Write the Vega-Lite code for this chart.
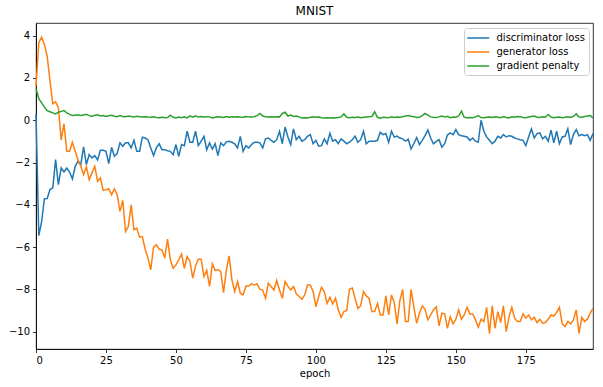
{
"$schema": "https://vega.github.io/schema/vega-lite/v6.json",
"width": 557, "height": 326,
"autosize": {"type": "none"},
"padding": {"left": 36, "top": 23, "right": 10, "bottom": 38},
"title": {"text": "MNIST", "fontSize": 12, "fontWeight": "normal", "font": "DejaVu Sans", "color": "#000", "offset": 5, "anchor": "middle"},
"config": {
  "font": "DejaVu Sans",
  "view": {"stroke": "#000", "strokeWidth": 0.8},
  "axis": {"grid": false, "domainColor": "#000", "domainWidth": 0.8, "tickColor": "#000", "tickWidth": 0.8, "tickSize": 3.5, "labelColor": "#000", "labelFontSize": 10, "labelFont": "DejaVu Sans", "titleFont": "DejaVu Sans", "titleFontSize": 10, "titleFontWeight": "normal", "titleColor": "#000"}
},
"data": {"values": [
{"e":0,"disc":0.3,"gen":1.6,"gp":1.5},
{"e":1,"disc":-5.46,"gen":3.67,"gp":1.02},
{"e":2,"disc":-4.8,"gen":3.93,"gp":0.82},
{"e":3,"disc":-3.71,"gen":3.59,"gp":0.62},
{"e":4,"disc":-3.7,"gen":3.03,"gp":0.45},
{"e":5,"disc":-3.28,"gen":1.85,"gp":0.4},
{"e":6,"disc":-3.2,"gen":0.78,"gp":0.35},
{"e":7,"disc":-1.86,"gen":0.87,"gp":0.3},
{"e":8,"disc":-3.05,"gen":0.58,"gp":0.38},
{"e":9,"disc":-2.26,"gen":-0.93,"gp":0.42},
{"e":10,"disc":-2.45,"gen":-0.17,"gp":0.46},
{"e":11,"disc":-2.26,"gen":-1.47,"gp":0.35},
{"e":12,"disc":-2.45,"gen":-1.47,"gp":0.28},
{"e":13,"disc":-2.78,"gen":-1.04,"gp":0.22},
{"e":14,"disc":-2.18,"gen":-1.47,"gp":0.24},
{"e":15,"disc":-1.94,"gen":-1.86,"gp":0.26},
{"e":16,"disc":-2.1,"gen":-2.18,"gp":0.22},
{"e":17,"disc":-1.26,"gen":-2.57,"gp":0.25},
{"e":18,"disc":-2.1,"gen":-2.2,"gp":0.28},
{"e":19,"disc":-1.62,"gen":-2.81,"gp":0.22},
{"e":20,"disc":-1.78,"gen":-2.49,"gp":0.18},
{"e":21,"disc":-1.67,"gen":-2.18,"gp":0.24},
{"e":22,"disc":-1.88,"gen":-2.89,"gp":0.26},
{"e":23,"disc":-1.42,"gen":-2.73,"gp":0.2},
{"e":24,"disc":-1.42,"gen":-3.32,"gp":0.22},
{"e":25,"disc":-1.47,"gen":-3.29,"gp":0.18},
{"e":26,"disc":-2.05,"gen":-3.24,"gp":0.21},
{"e":27,"disc":-1.28,"gen":-3.52,"gp":0.24},
{"e":28,"disc":-1.7,"gen":-3.25,"gp":0.19},
{"e":29,"disc":-1.58,"gen":-3.52,"gp":0.17},
{"e":30,"disc":-1.07,"gen":-4.31,"gp":0.22},
{"e":31,"disc":-1.23,"gen":-3.79,"gp":0.18},
{"e":32,"disc":-1.07,"gen":-5.26,"gp":0.17},
{"e":33,"disc":-1.07,"gen":-5.02,"gp":0.2},
{"e":34,"disc":-1.31,"gen":-4.0,"gp":0.18},
{"e":35,"disc":-0.95,"gen":-5.18,"gp":0.16},
{"e":36,"disc":-1.47,"gen":-5.1,"gp":0.19},
{"e":37,"disc":-1.47,"gen":-5.53,"gp":0.17},
{"e":38,"disc":-0.8,"gen":-5.5,"gp":0.15},
{"e":39,"disc":-0.84,"gen":-6.1,"gp":0.17},
{"e":40,"disc":-0.92,"gen":-6.52,"gp":0.15},
{"e":41,"disc":-1.31,"gen":-7.07,"gp":0.14},
{"e":42,"disc":-1.67,"gen":-6.0,"gp":0.16},
{"e":43,"disc":-1.31,"gen":-5.89,"gp":0.13},
{"e":44,"disc":-1.11,"gen":-6.1,"gp":0.12},
{"e":45,"disc":-1.39,"gen":-6.13,"gp":0.14},
{"e":46,"disc":-1.39,"gen":-6.52,"gp":0.12},
{"e":47,"disc":-1.44,"gen":-5.62,"gp":0.13},
{"e":48,"disc":-1.47,"gen":-6.6,"gp":0.24},
{"e":49,"disc":-1.63,"gen":-7.0,"gp":0.14},
{"e":50,"disc":-1.15,"gen":-6.84,"gp":0.11},
{"e":51,"disc":-1.71,"gen":-6.6,"gp":0.15},
{"e":52,"disc":-1.15,"gen":-6.33,"gp":0.12},
{"e":53,"disc":-1.2,"gen":-7.0,"gp":0.16},
{"e":54,"disc":-0.52,"gen":-6.45,"gp":0.11},
{"e":55,"disc":-1.04,"gen":-6.68,"gp":0.21},
{"e":56,"disc":-1.04,"gen":-7.47,"gp":0.15},
{"e":57,"disc":-0.52,"gen":-6.89,"gp":0.21},
{"e":58,"disc":-1.2,"gen":-6.57,"gp":0.15},
{"e":59,"disc":-0.99,"gen":-6.57,"gp":0.18},
{"e":60,"disc":-0.76,"gen":-7.39,"gp":0.15},
{"e":61,"disc":-1.39,"gen":-7.1,"gp":0.17},
{"e":62,"disc":-1.07,"gen":-7.86,"gp":0.16},
{"e":63,"disc":-1.36,"gen":-6.79,"gp":0.11},
{"e":64,"disc":-1.11,"gen":-7.1,"gp":0.14},
{"e":65,"disc":-1.67,"gen":-7.07,"gp":0.16},
{"e":66,"disc":-1.07,"gen":-7.15,"gp":0.15},
{"e":67,"disc":-1.2,"gen":-8.15,"gp":0.13},
{"e":68,"disc":-1.02,"gen":-7.1,"gp":0.18},
{"e":69,"disc":-0.99,"gen":-6.41,"gp":0.14},
{"e":70,"disc":-1.04,"gen":-7.55,"gp":0.16},
{"e":71,"disc":-1.11,"gen":-8.1,"gp":0.15},
{"e":72,"disc":-1.31,"gen":-7.63,"gp":0.17},
{"e":73,"disc":-0.76,"gen":-8.18,"gp":0.15},
{"e":74,"disc":-1.47,"gen":-8.26,"gp":0.14},
{"e":75,"disc":-1.2,"gen":-7.84,"gp":0.18},
{"e":76,"disc":-1.31,"gen":-7.84,"gp":0.16},
{"e":77,"disc":-1.15,"gen":-7.74,"gp":0.15},
{"e":78,"disc":-1.04,"gen":-7.79,"gp":0.17},
{"e":79,"disc":-1.04,"gen":-7.74,"gp":0.22},
{"e":80,"disc":-1.07,"gen":-8.0,"gp":0.32},
{"e":81,"disc":-1.31,"gen":-8.03,"gp":0.2},
{"e":82,"disc":-0.88,"gen":-8.42,"gp":0.16},
{"e":83,"disc":-0.84,"gen":-7.71,"gp":0.15},
{"e":84,"disc":-0.95,"gen":-7.86,"gp":0.16},
{"e":85,"disc":-1.04,"gen":-8.03,"gp":0.15},
{"e":86,"disc":-0.92,"gen":-7.58,"gp":0.17},
{"e":87,"disc":-0.52,"gen":-8.03,"gp":0.16},
{"e":88,"disc":-1.11,"gen":-8.42,"gp":0.32},
{"e":89,"disc":-0.32,"gen":-7.63,"gp":0.38},
{"e":90,"disc":-0.79,"gen":-7.86,"gp":0.2},
{"e":91,"disc":-1.15,"gen":-8.03,"gp":0.25},
{"e":92,"disc":-0.41,"gen":-7.86,"gp":0.18},
{"e":93,"disc":-0.92,"gen":-8.21,"gp":0.2},
{"e":94,"disc":-0.76,"gen":-8.34,"gp":0.16},
{"e":95,"disc":-0.99,"gen":-8.47,"gp":0.11},
{"e":96,"disc":-0.92,"gen":-8.26,"gp":0.12},
{"e":97,"disc":-0.76,"gen":-7.79,"gp":0.11},
{"e":98,"disc":-0.68,"gen":-7.79,"gp":0.14},
{"e":99,"disc":-1.11,"gen":-8.1,"gp":0.16},
{"e":100,"disc":-0.95,"gen":-8.82,"gp":0.14},
{"e":101,"disc":-1.23,"gen":-8.34,"gp":0.15},
{"e":102,"disc":-1.2,"gen":-7.9,"gp":0.12},
{"e":103,"disc":-0.88,"gen":-8.1,"gp":0.11},
{"e":104,"disc":-1.11,"gen":-8.66,"gp":0.12},
{"e":105,"disc":-0.62,"gen":-8.37,"gp":0.11},
{"e":106,"disc":-0.99,"gen":-8.69,"gp":0.12},
{"e":107,"disc":-0.92,"gen":-8.42,"gp":0.11},
{"e":108,"disc":-1.11,"gen":-8.97,"gp":0.13},
{"e":109,"disc":-0.88,"gen":-9.32,"gp":0.16},
{"e":110,"disc":-0.99,"gen":-9.05,"gp":0.3},
{"e":111,"disc":-1.11,"gen":-9.0,"gp":0.14},
{"e":112,"disc":-1.04,"gen":-8.0,"gp":0.12},
{"e":113,"disc":-0.92,"gen":-7.94,"gp":0.14},
{"e":114,"disc":-0.75,"gen":-8.42,"gp":0.13},
{"e":115,"disc":-1.04,"gen":-8.9,"gp":0.15},
{"e":116,"disc":-0.92,"gen":-8.78,"gp":0.12},
{"e":117,"disc":-0.52,"gen":-8.1,"gp":0.14},
{"e":118,"disc":-1.11,"gen":-8.31,"gp":0.15},
{"e":119,"disc":-0.99,"gen":-8.42,"gp":0.16},
{"e":120,"disc":-0.99,"gen":-9.05,"gp":0.18},
{"e":121,"disc":-0.99,"gen":-9.05,"gp":0.4},
{"e":122,"disc":-0.95,"gen":-8.66,"gp":0.14},
{"e":123,"disc":-0.57,"gen":-9.21,"gp":0.1},
{"e":124,"disc":-0.68,"gen":-9.21,"gp":0.14},
{"e":125,"disc":-0.63,"gen":-8.31,"gp":0.13},
{"e":126,"disc":-1.04,"gen":-9.21,"gp":0.12},
{"e":127,"disc":-0.52,"gen":-8.26,"gp":0.16},
{"e":128,"disc":-0.8,"gen":-8.63,"gp":0.13},
{"e":129,"disc":-0.75,"gen":-9.63,"gp":0.15},
{"e":130,"disc":-0.84,"gen":-8.53,"gp":0.14},
{"e":131,"disc":-0.88,"gen":-8.0,"gp":0.17},
{"e":132,"disc":-0.99,"gen":-9.52,"gp":0.2},
{"e":133,"disc":-0.9,"gen":-9.52,"gp":0.22},
{"e":134,"disc":-1.36,"gen":-8.0,"gp":0.19},
{"e":135,"disc":-1.1,"gen":-8.85,"gp":0.17},
{"e":136,"disc":-0.82,"gen":-9.6,"gp":0.13},
{"e":137,"disc":-1.15,"gen":-9.13,"gp":0.14},
{"e":138,"disc":-0.95,"gen":-8.78,"gp":0.22},
{"e":139,"disc":-0.73,"gen":-8.94,"gp":0.32},
{"e":140,"disc":-0.46,"gen":-9.44,"gp":0.24},
{"e":141,"disc":-0.84,"gen":-9.21,"gp":0.16},
{"e":142,"disc":-1.11,"gen":-8.97,"gp":0.14},
{"e":143,"disc":-1.0,"gen":-8.82,"gp":0.13},
{"e":144,"disc":-0.92,"gen":-9.73,"gp":0.16},
{"e":145,"disc":-1.28,"gen":-9.13,"gp":0.2},
{"e":146,"disc":-1.11,"gen":-9.16,"gp":0.15},
{"e":147,"disc":-0.7,"gen":-9.84,"gp":0.19},
{"e":148,"disc":-0.6,"gen":-9.29,"gp":0.12},
{"e":149,"disc":-0.68,"gen":-9.63,"gp":0.15},
{"e":150,"disc":-0.44,"gen":-9.41,"gp":0.14},
{"e":151,"disc":-0.68,"gen":-8.97,"gp":0.2},
{"e":152,"disc":-0.73,"gen":-9.41,"gp":0.43},
{"e":153,"disc":-0.76,"gen":-9.21,"gp":0.14},
{"e":154,"disc":-0.79,"gen":-8.85,"gp":0.12},
{"e":155,"disc":-0.95,"gen":-9.16,"gp":0.13},
{"e":156,"disc":-0.84,"gen":-9.16,"gp":0.12},
{"e":157,"disc":-0.99,"gen":-9.44,"gp":0.16},
{"e":158,"disc":-1.04,"gen":-9.79,"gp":0.22},
{"e":159,"disc":0.0,"gen":-9.41,"gp":0.13},
{"e":160,"disc":-0.52,"gen":-9.52,"gp":0.12},
{"e":161,"disc":-0.79,"gen":-8.85,"gp":0.14},
{"e":162,"disc":-0.95,"gen":-10.08,"gp":0.15},
{"e":163,"disc":-1.11,"gen":-8.78,"gp":0.13},
{"e":164,"disc":-0.99,"gen":-9.84,"gp":0.16},
{"e":165,"disc":-0.76,"gen":-9.05,"gp":0.14},
{"e":166,"disc":-0.84,"gen":-9.57,"gp":0.12},
{"e":167,"disc":-0.68,"gen":-8.78,"gp":0.17},
{"e":168,"disc":-0.79,"gen":-10.0,"gp":0.13},
{"e":169,"disc":-0.73,"gen":-9.29,"gp":0.11},
{"e":170,"disc":-0.76,"gen":-8.85,"gp":0.16},
{"e":171,"disc":-0.84,"gen":-9.36,"gp":0.14},
{"e":172,"disc":-0.88,"gen":-9.52,"gp":0.18},
{"e":173,"disc":-0.92,"gen":-9.52,"gp":0.17},
{"e":174,"disc":-0.95,"gen":-9.16,"gp":0.13},
{"e":175,"disc":-1.2,"gen":-9.36,"gp":0.12},
{"e":176,"disc":-0.79,"gen":-9.21,"gp":0.15},
{"e":177,"disc":-0.41,"gen":-9.44,"gp":0.18},
{"e":178,"disc":-0.84,"gen":-9.32,"gp":0.2},
{"e":179,"disc":-0.63,"gen":-9.57,"gp":0.14},
{"e":180,"disc":-0.6,"gen":-9.41,"gp":0.13},
{"e":181,"disc":-0.88,"gen":-9.6,"gp":0.16},
{"e":182,"disc":-0.76,"gen":-9.57,"gp":0.14},
{"e":183,"disc":-0.99,"gen":-9.41,"gp":0.27},
{"e":184,"disc":-0.47,"gen":-9.21,"gp":0.15},
{"e":185,"disc":-1.07,"gen":-9.26,"gp":0.12},
{"e":186,"disc":-0.52,"gen":-9.1,"gp":0.14},
{"e":187,"disc":-1.11,"gen":-8.85,"gp":0.15},
{"e":188,"disc":-0.79,"gen":-9.63,"gp":0.12},
{"e":189,"disc":-0.76,"gen":-9.76,"gp":0.14},
{"e":190,"disc":-0.41,"gen":-9.52,"gp":0.16},
{"e":191,"disc":-1.15,"gen":-9.63,"gp":0.13},
{"e":192,"disc":-0.68,"gen":-9.44,"gp":0.18},
{"e":193,"disc":-0.44,"gen":-8.97,"gp":0.3},
{"e":194,"disc":-0.73,"gen":-10.08,"gp":0.15},
{"e":195,"disc":-0.68,"gen":-9.32,"gp":0.14},
{"e":196,"disc":-0.73,"gen":-9.52,"gp":0.18},
{"e":197,"disc":-0.68,"gen":-9.41,"gp":0.2},
{"e":198,"disc":-0.95,"gen":-9.13,"gp":0.22},
{"e":199,"disc":-0.63,"gen":-8.9,"gp":0.11}
]},
"transform": [{"fold": ["disc", "gen", "gp"], "as": ["series", "value"]}],
"mark": {"type": "line", "strokeWidth": 1.5},
"encoding": {
  "x": {"field": "e", "type": "quantitative", "scale": {"domain": [0, 199], "nice": false, "zero": false},
        "axis": {"values": [0, 25, 50, 75, 100, 125, 150, 175], "title": "epoch", "labelPadding": 3, "titlePadding": 3}},
  "y": {"field": "value", "type": "quantitative", "scale": {"domain": [-10.82, 4.6], "nice": false, "zero": false},
        "axis": {"values": [-10, -8, -6, -4, -2, 0, 2, 4], "title": null, "labelPadding": 3}},
  "color": {"field": "series", "type": "nominal",
            "scale": {"domain": ["disc", "gen", "gp"], "range": ["#1f77b4", "#ff7f0e", "#2ca02c"]},
            "legend": {"orient": "none", "legendX": 428, "legendY": 5, "title": null,
                       "symbolType": "M-1.35,0H3.05", "symbolSize": 100, "symbolStrokeWidth": 1.5, "symbolFillColor": "transparent",
                       "labelFontSize": 10, "labelColor": "#000", "labelFont": "DejaVu Sans", "labelOffset": 16.5,
                       "fillColor": "#ffffff", "strokeColor": "#cccccc", "cornerRadius": 3, "padding": 4, "rowPadding": 3,
                       "labelExpr": "datum.label == 'disc' ? 'discriminator loss' : datum.label == 'gen' ? 'generator loss' : 'gradient penalty'"}}
}
}
